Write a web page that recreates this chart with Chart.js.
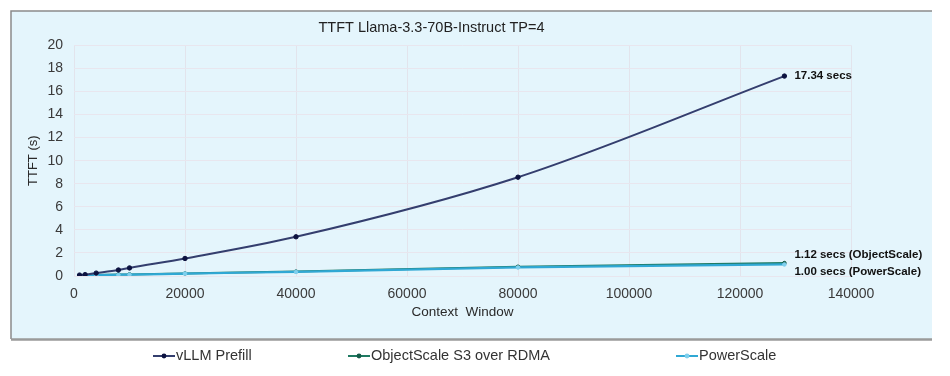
<!DOCTYPE html>
<html>
<head>
<meta charset="utf-8">
<script src="https://cdn.jsdelivr.net/npm/chart.js@4.4.1/dist/chart.umd.min.js"></script>
<style>
  html, body { margin: 0; padding: 0; background: #fff; }
  #wrap { width: 950px; height: 376px; }
</style>
</head>
<body>
<div id="wrap"><canvas id="ttft-chart"></canvas></div>
<script>
// values
const contextWindow = [1000, 2000, 4000, 8000, 10000, 20000, 40000, 80000, 128000];
const vllmPrefill = [0.08, 0.12, 0.25, 0.52, 0.7, 1.52, 3.4, 8.57, 17.34];
const objectScale = [0.05, 0.06, 0.08, 0.12, 0.14, 0.22, 0.38, 0.8, 1.12];
const powerScale = [0.05, 0.06, 0.07, 0.11, 0.12, 0.21, 0.36, 0.74, 1.0];
const seriesNames = ['vLLM Prefill', 'ObjectScale S3 over RDMA', 'PowerScale'];
const seriesColors = ['#343e6e', '#1f7a62', '#30a8d4'];
const markerColors = ['#0c1240', '#145c48', '#7fd0ee'];
const endLabels = ['17.34 secs', '1.12 secs (ObjectScale)', '1.00 secs (PowerScale)'];

const FONT = '"Liberation Sans", Arial, sans-serif';

function toPoints(values) {
    return contextWindow.map((x, i) => ({ x: x, y: values[i] }));
}

const panelPlugin = {
    id: 'panel',
    beforeDraw(chart) {
        const c = chart.ctx;
        c.save();
        c.fillStyle = '#e4f5fc';
        c.fillRect(11, 11, 921, 328);
        c.strokeStyle = '#8a8a8a';
        c.lineWidth = 1.5;
        c.beginPath();
        c.moveTo(11, 339);
        c.lineTo(11, 11);
        c.lineTo(932, 11);
        c.stroke();
        c.strokeStyle = '#9a9a9a';
        c.lineWidth = 2.5;
        c.beginPath();
        c.moveTo(11, 339.5);
        c.lineTo(932, 339.5);
        c.stroke();
        c.restore();
    }
};

const endLabelPlugin = {
    id: 'endLabels',
    afterDatasetsDraw(chart) {
        const c = chart.ctx;
        const shifts = [0, -8, 7];
        c.save();
        c.font = 'bold 11.5px ' + FONT;
        c.fillStyle = '#111';
        c.textBaseline = 'middle';
        chart.data.datasets.forEach((ds, i) => {
            const pts = chart.getDatasetMeta(i).data;
            const last = pts[pts.length - 1];
            c.fillText(endLabels[i], last.x + 10, last.y + shifts[i]);
        });
        c.restore();
    }
};

// legend below the panel, spaced like the original
const legendPlugin = {
    id: 'bottomLegend',
    afterDraw(chart) {
        const c = chart.ctx;
        const starts = [153, 348, 676];
        const y = 356;
        c.save();
        c.font = '14.5px ' + FONT;
        c.textBaseline = 'middle';
        seriesNames.forEach((name, i) => {
            const x = starts[i];
            c.strokeStyle = seriesColors[i];
            c.lineWidth = 2;
            c.beginPath();
            c.moveTo(x, y);
            c.lineTo(x + 22, y);
            c.stroke();
            c.fillStyle = markerColors[i];
            c.beginPath();
            c.arc(x + 11, y, 2.4, 0, Math.PI * 2);
            c.fill();
            c.fillStyle = '#333';
            c.fillText(name, x + 23, y);
        });
        c.restore();
    }
};

const ctx = document.getElementById('ttft-chart').getContext('2d');
const ttftChart = new Chart(ctx, {
    type: 'line',
    data: {
        datasets: [
            {
                label: seriesNames[0],
                data: toPoints(vllmPrefill),
                borderColor: seriesColors[0],
                pointBackgroundColor: markerColors[0],
                pointBorderColor: markerColors[0],
                pointRadius: 2.2,
                pointBorderWidth: 1,
                borderWidth: 2,
                cubicInterpolationMode: 'monotone',
                order: 0
            },
            {
                label: seriesNames[1],
                data: toPoints(objectScale),
                borderColor: seriesColors[1],
                pointBackgroundColor: markerColors[1],
                pointBorderColor: markerColors[1],
                pointRadius: 1.8,
                pointBorderWidth: 1,
                borderWidth: 2,
                cubicInterpolationMode: 'monotone',
                order: 2
            },
            {
                label: seriesNames[2],
                data: toPoints(powerScale),
                borderColor: seriesColors[2],
                pointBackgroundColor: markerColors[2],
                pointBorderColor: markerColors[2],
                pointRadius: 1.8,
                pointBorderWidth: 1,
                borderWidth: 2.2,
                cubicInterpolationMode: 'monotone',
                order: 1
            }
        ]
    },
    options: {
        responsive: true,
        maintainAspectRatio: false,
        animation: false,
        layout: { padding: { left: 12, right: 99, top: 0, bottom: 56 } },
        scales: {
            x: {
                type: 'linear',
                min: 0,
                max: 140000,
                ticks: {
                    stepSize: 20000,
                    autoSkip: false,
                    color: '#3a3a3a',
                    padding: 10,
                    font: { family: FONT, size: 14 },
                    callback: (v) => String(v)
                },
                grid: { color: '#e2e4ec', drawTicks: false },
                border: { display: false },
                title: {
                    display: true,
                    text: 'Context  Window',
                    color: '#2a2a2a',
                    padding: { top: 4, bottom: 0 },
                    font: { family: FONT, size: 13.5 }
                },
                afterFit: (scale) => { scale.height = 44; }
            },
            y: {
                min: 0,
                max: 20,
                ticks: {
                    stepSize: 2,
                    autoSkip: false,
                    color: '#3a3a3a',
                    padding: 11,
                    font: { family: FONT, size: 14 }
                },
                grid: { color: '#e8e6ee', drawTicks: false },
                border: { display: false },
                title: {
                    display: true,
                    text: 'TTFT (s)',
                    color: '#2a2a2a',
                    padding: { top: 14, bottom: 0 },
                    font: { family: FONT, size: 13 }
                },
                afterFit: (scale) => { scale.width = 62; }
            }
        },
        plugins: {
            title: {
                display: true,
                text: 'TTFT Llama-3.3-70B-Instruct TP=4',
                color: '#222',
                padding: { top: 19, bottom: 9 },
                font: { family: FONT, size: 14.5, weight: 'normal' }
            },
            legend: { display: false },
            tooltip: { enabled: false }
        }
    },
    plugins: [panelPlugin, endLabelPlugin, legendPlugin]
});
</script>
</body>
</html>
